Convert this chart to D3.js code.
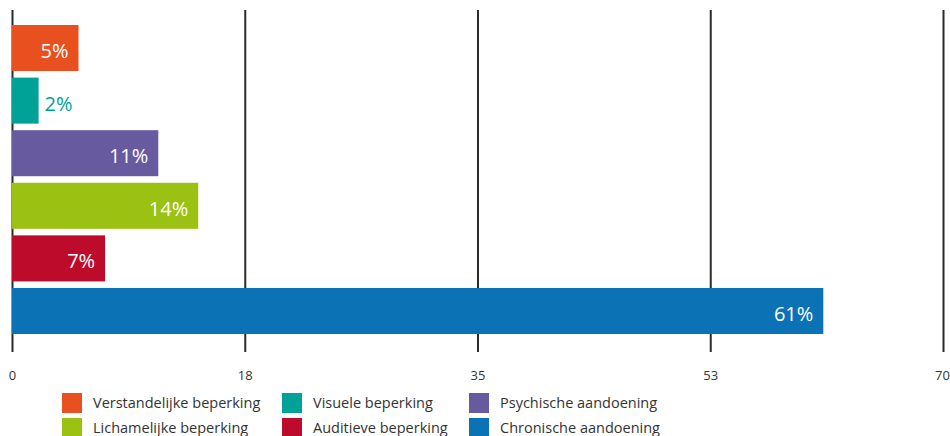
<!DOCTYPE html>
<html>
<head>
<meta charset="utf-8">
<script src="https://cdn.jsdelivr.net/npm/d3@7"></script>
<style>
  html, body { margin: 0; padding: 0; background: #fff; }
  svg { display: block; font-family: "Open Sans", sans-serif; }
</style>
</head>
<body>
<svg id="chart" width="950" height="436"></svg>
<script>
// Share per type of disability / condition (percent)
const categories = [
  "Verstandelijke beperking",
  "Visuele beperking",
  "Psychische aandoening",
  "Lichamelijke beperking",
  "Auditieve beperking",
  "Chronische aandoening"
];
const values = [5, 2, 11, 14, 7, 61];
const colors = ["#e8501f", "#00a196", "#685a9f", "#9bc112", "#bd0b2b", "#0b72b5"];
const tickValues = [0, 17.5, 35, 52.5, 70];
const tickLabels = ["0", "18", "35", "53", "70"];
// legend reading order: row by row, three columns
const legendOrder = [0, 1, 2, 3, 4, 5];

const svg = d3.select("#chart");

const x = d3.scaleLinear().domain([0, 70]).range([12, 943]);
const y = d3.scaleBand().domain(categories).range([25, 334]).paddingInner(0.125).paddingOuter(0);

const gridTop = 10, gridBottom = 352;

// vertical grid lines and ticks
const axis = d3.axisBottom(x)
  .tickValues(tickValues)
  .tickSize(gridBottom - gridTop)
  .tickFormat((d, i) => tickLabels[i]);

const gAxis = svg.append("g")
  .attr("transform", `translate(0,${gridTop})`)
  .call(axis);
gAxis.select(".domain").remove();
gAxis.selectAll(".tick line").attr("stroke", "#2b2b2b").attr("stroke-width", 2);
gAxis.selectAll(".tick text")
  .attr("y", gridBottom - gridTop + 28)
  .attr("x", (d, i) => i === tickValues.length - 1 ? -1 : 0)
  .attr("dy", 0)
  .attr("fill", "#333")
  .style("font-size", "13px")
  .style("font-family", "'Open Sans', sans-serif");

// bars
svg.append("g").selectAll("rect")
  .data(values)
  .join("rect")
  .attr("x", x(0))
  .attr("y", (d, i) => y(categories[i]))
  .attr("width", d => x(d) - x(0))
  .attr("height", y.bandwidth())
  .attr("fill", (d, i) => colors[i]);

// value labels: inside the bar when it is wide enough, otherwise just outside
svg.append("g").selectAll("text")
  .data(values)
  .join("text")
  .each(function(d, i) {
    const inside = x(d) - x(0) > 40;
    d3.select(this)
      .attr("x", inside ? x(d) - 10 : x(d) + 6)
      .attr("y", y(categories[i]) + y.bandwidth() / 2 + 10)
      .attr("text-anchor", inside ? "end" : "start")
      .attr("fill", inside ? "#fff" : colors[i]);
  })
  .style("font-size", "20px")
  .text(d => d + "%");

// legend
const legendCols = [62, 282, 469];
const legendRows = [393, 418];
const lg = svg.append("g").selectAll("g")
  .data(legendOrder)
  .join("g")
  .attr("transform", (d, k) => `translate(${legendCols[k % 3]},${legendRows[Math.floor(k / 3)]})`);
lg.append("rect")
  .attr("width", 20).attr("height", 20)
  .attr("fill", d => colors[d]);
lg.append("text")
  .attr("x", 31).attr("y", 15)
  .attr("fill", "#333")
  .style("font-size", "14.5px")
  .text(d => categories[d]);
</script>
</body>
</html>
